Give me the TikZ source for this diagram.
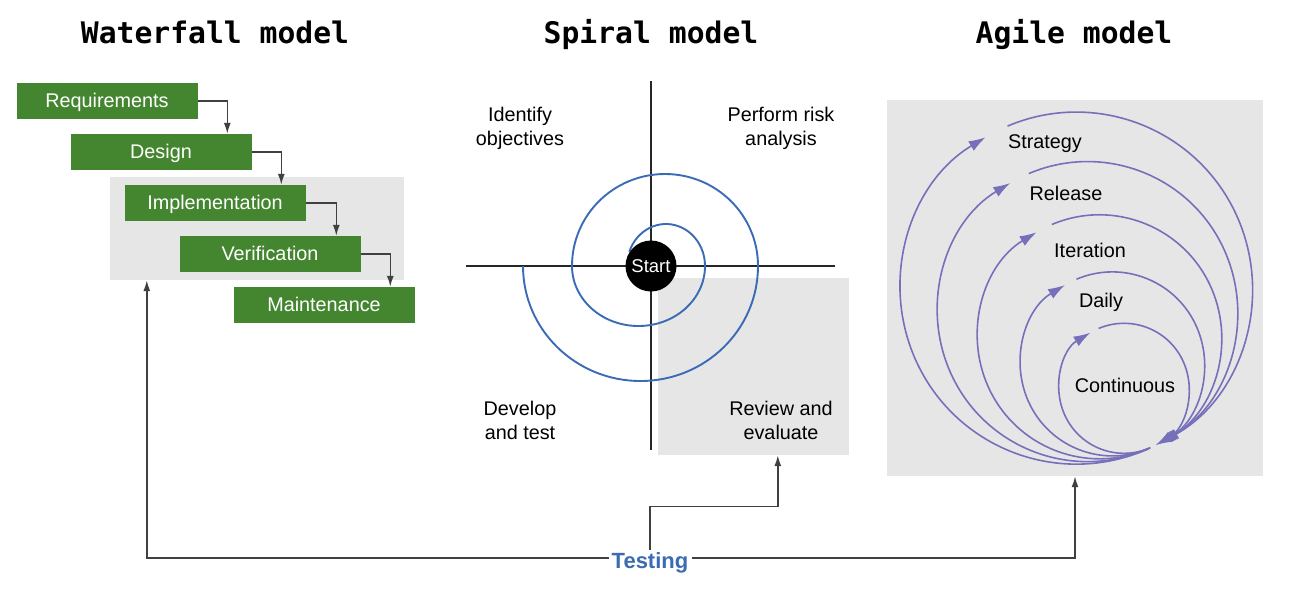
\documentclass[tikz,border=0pt]{standalone}
\usepackage{fontspec}
\setmainfont{Liberation Sans}
\newfontfamily\titlefont{DejaVu Sans Mono}
\usetikzlibrary{arrows.meta,calc}
\definecolor{wfgreen}{HTML}{43862F}
\definecolor{bggray}{HTML}{E6E6E6}
\definecolor{spblue}{HTML}{3A6BB4}
\definecolor{agpurple}{HTML}{7670BA}
\definecolor{testblue}{HTML}{3B6BB0}
\definecolor{connc}{HTML}{404040}
\tikzset{
  title/.style={font=\titlefont\bfseries\fontsize{29.7}{34}\selectfont, anchor=base, inner sep=0},
  body/.style={font=\fontsize{19.8}{24}\selectfont, align=center, inner sep=0},
  wbox/.style={fill=wfgreen, text=white, minimum width=181, minimum height=36, inner sep=0, text height=15, text depth=3, font=\fontsize{19.8}{24}\selectfont},
  graybox/.style={fill=bggray, inner sep=0},
  conn/.style={draw=connc, line width=1.5pt, -{Latex[length=11pt,width=7pt]}},
  axis/.style={draw=black!85, line width=1.2pt},
  spiralline/.style={draw=spblue, line width=1.9pt},
  loopline/.style={draw=agpurple, line width=1.6pt, -{Latex[length=17pt,width=11pt]}},
}
\begin{document}
\begin{tikzpicture}[x=1pt,y=-1pt]
\useasboundingbox (0,0) rectangle (1289,590);
% titles
\node[title] (t1) at (215,43) {Waterfall model};
\node[title] (t2) at (651,43) {Spiral model};
\node[title] (t3) at (1074,43) {Agile model};

% waterfall
\node[graybox, minimum width=294, minimum height=103] (wfbg) at (257,228.5) {};
\node[wbox] (req) at (107,101) {Requirements};
\node[wbox] (des) at (161,152) {Design};
\node[wbox] (imp) at (215,203) {Implementation};
\node[wbox] (ver) at (270,254) {Verification};
\node[wbox] (mai) at (324,305) {Maintenance};
\draw[conn] (req.east) -| ([xshift=157pt]des.north west);
\draw[conn] (des.east) -| ([xshift=157pt]imp.north west);
\draw[conn] (imp.east) -| ([xshift=157pt]ver.north west);
\draw[conn] (ver.east) -| ([xshift=157pt]mai.north west);

% spiral
\node[graybox, minimum width=191, minimum height=177] (rev) at (753.5,366.5) {};
\coordinate (hl) at (466,266);
\coordinate (hr) at (835,266);
\coordinate (vt) at (651,81);
\coordinate (vb) at (651,450);
\draw[axis] (hl) -- (hr);
\draw[axis] (vt) -- (vb);
\draw[spiralline] ([shift={(666,266)}]200:39 and 42)
  arc[start angle=200,end angle=360,x radius=39,y radius=42]
  arc[start angle=0,end angle=180,x radius=66.5,y radius=60]
  arc[start angle=180,end angle=360,x radius=93,y radius=92]
  arc[start angle=0,end angle=180,x radius=117.5,y radius=115];
\node[circle, fill=black, text=white, minimum size=51, inner sep=0, font=\fontsize{18.5}{20}\selectfont] (start) at (651,266) {Start};
\node[body] (q1) at (520,128) {Identify\\objectives};
\node[body] (q2) at (781,128) {Perform risk\\analysis};
\node[body] (q3) at (520,420) {Develop\\and test};
\node[body] (q4) at (781,420) {Review and\\evaluate};

% agile
\node[graybox, minimum width=376, minimum height=376] (agile) at (1075,288) {};
\foreach \r/\cx/\cy in {176/1076.3/288.1, 150/1087.5/311.6, 122/1099.5/336.8, 92/1112.4/363.9, 65/1124.0/388.3}{
  \draw[loopline] ([shift={(\cx,\cy)}]66:\r) arc[start angle=66,end angle=239,radius=\r];
  \draw[loopline] ([shift={(\cx,\cy)}]247:\r) arc[start angle=247,end angle=421,radius=\r];
}
\node[body] (a1) at (1045,144) {Strategy};
\node[body] (a2) at (1066,193) {Release};
\node[body] (a3) at (1090,250) {Iteration};
\node[body] (a4) at (1101,302) {Daily};
\node[body] (a5) at (1125,385) {Continuous};

% testing
\node[font=\bfseries\fontsize{22}{26}\selectfont, text=testblue, inner sep=3pt] (test) at (650,563) {Testing};
\draw[conn] ([yshift=5pt]test.west) -| ([xshift=37pt]wfbg.south west);
\draw[conn] (test.north) -- ++(0,-43) -| ([xshift=120pt]rev.south west);
\draw[conn] ([yshift=5pt]test.east) -| (agile.south);
\end{tikzpicture}
\end{document}
